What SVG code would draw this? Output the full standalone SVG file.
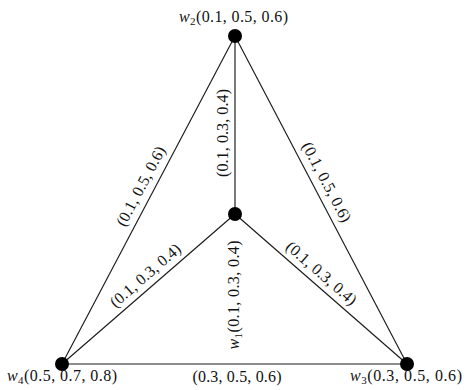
<svg xmlns="http://www.w3.org/2000/svg" width="469" height="390" viewBox="0 0 469 390">
<style>
.e{stroke:#1a1a1a;stroke-width:1.15;fill:none}
.n{fill:#000}
text{font-family:"Liberation Serif","Times New Roman",serif;font-size:16px;fill:#111;text-anchor:middle}
.i{font-style:italic}
.s{font-size:11px}
</style>
<rect width="469" height="390" fill="#fff"/>
<g id="connectors">
<line class="e" x1="235" y1="36" x2="62" y2="364"/>
<line class="e" x1="235" y1="36" x2="407" y2="364"/>
<line class="e" x1="235" y1="36" x2="235" y2="214"/>
<line class="e" x1="235" y1="214" x2="62" y2="364"/>
<line class="e" x1="235" y1="214" x2="407" y2="364"/>
<line class="e" x1="62" y1="364" x2="407" y2="364"/>
<g id="edge-labels">
<text transform="translate(152.5,192.4) rotate(-62.19)" y="-8" textLength="88" lengthAdjust="spacing">(0.1, 0.5, 0.6)</text>
<text transform="translate(314.9,188.3) rotate(62.33)" y="-8" textLength="88" lengthAdjust="spacing">(0.1, 0.5, 0.6)</text>
<text transform="translate(235,133) rotate(-90)" y="-7" textLength="88" lengthAdjust="spacing">(0.1, 0.3, 0.4)</text>
<text transform="translate(153.4,284.7) rotate(-40.93)" y="-7" textLength="88" lengthAdjust="spacing">(0.1, 0.3, 0.4)</text>
<text transform="translate(313.4,282.4) rotate(41.09)" y="-7" textLength="88" lengthAdjust="spacing">(0.1, 0.3, 0.4)</text>
<text x="237" y="382" textLength="89" lengthAdjust="spacing">(0.3, 0.5, 0.6)</text>
</g>
</g>
<g id="w2">
<circle class="n" cx="235" cy="36" r="7"/>
<text x="233.5" y="22" textLength="109" lengthAdjust="spacing"><tspan class="i">w</tspan><tspan class="s" dy="3">2</tspan><tspan dy="-3">(0.1, 0.5, 0.6)</tspan></text>
</g>
<g id="w1">
<circle class="n" cx="235" cy="214" r="7"/>
<text transform="translate(235,295) rotate(-90)" y="4" textLength="109" lengthAdjust="spacing"><tspan class="i">w</tspan><tspan class="s" dy="3">1</tspan><tspan dy="-3">(0.1, 0.3, 0.4)</tspan></text>
</g>
<g id="w4">
<circle class="n" cx="62" cy="364" r="7"/>
<text x="62" y="381" textLength="110" lengthAdjust="spacing"><tspan class="i">w</tspan><tspan class="s" dy="3">4</tspan><tspan dy="-3">(0.5, 0.7, 0.8)</tspan></text>
</g>
<g id="w3">
<circle class="n" cx="407" cy="364" r="7"/>
<text x="406" y="381" textLength="112" lengthAdjust="spacing"><tspan class="i">w</tspan><tspan class="s" dy="3">3</tspan><tspan dy="-3">(0.3, 0.5, 0.6)</tspan></text>
</g>
</svg>
